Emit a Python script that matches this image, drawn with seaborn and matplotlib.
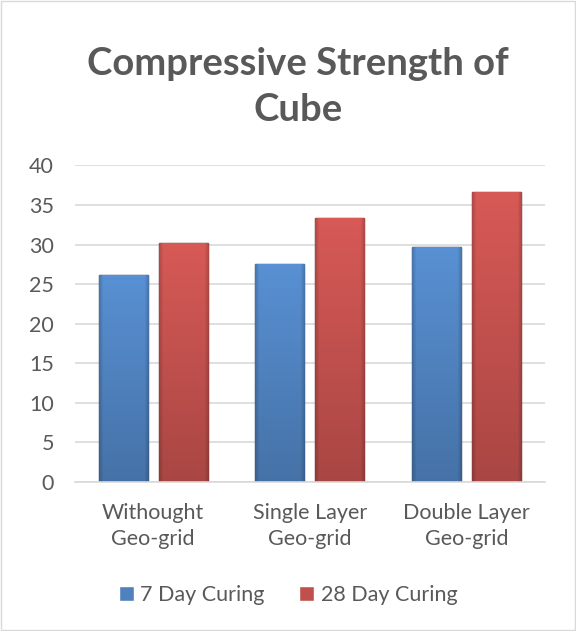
import numpy as np
import pandas as pd
import matplotlib.pyplot as plt
import matplotlib.colors as mcolors
import seaborn as sns
from matplotlib.patches import Rectangle

# data
categories = ["Withought\nGeo-grid", "Single Layer\nGeo-grid", "Double Layer\nGeo-grid"]
curing = ["7 Day Curing", "28 Day Curing"]
day7 = [26.2, 27.6, 29.7]
day28 = [30.2, 33.4, 36.6]
yticks = [0, 5, 10, 15, 20, 25, 30, 35, 40]

df = pd.DataFrame({
    "category": categories * 2,
    "curing": [curing[0]] * 3 + [curing[1]] * 3,
    "value": day7 + day28,
})

palette = {curing[0]: "#4f81bd", curing[1]: "#c0504d"}
edges = {curing[0]: "#1f3a5f", curing[1]: "#5a1f1d"}
grey = "#595959"


def bar_image(color):
    # vertical light->dark gradient with darker side edges (excel bevel look)
    base = np.array(mcolors.to_rgb(color))
    rows = np.linspace(1.12, 0.88, 120).reshape(-1, 1, 1)
    cols = np.linspace(-1, 1, 40)
    side = (1 - 0.18 * np.clip((np.abs(cols) - 0.85) / 0.15, 0, 1)).reshape(1, -1, 1)
    img = np.clip(base.reshape(1, 1, 3) * rows * side, 0, 1)
    return img


sns.set_theme(style="white")
plt.rcParams["font.family"] = ["Lato", "DejaVu Sans"]

fig = plt.figure(figsize=(5.76, 6.31), dpi=100)
ax = fig.add_axes([0.13, 0.236, 0.816, 0.502])

sns.barplot(data=df, x="category", y="value", hue="curing", palette=palette,
            width=0.766, gap=0.183, ax=ax, legend=True, saturation=1)

for cont, name in zip(ax.containers, curing):
    for p in cont:
        p.set_edgecolor(edges[name])
        p.set_linewidth(1.0)
        x0, y0 = p.get_x(), p.get_y()
        w, h = p.get_width(), p.get_height()
        im = ax.imshow(bar_image(palette[name]), extent=(x0, x0 + w, y0, y0 + h),
                       aspect="auto", origin="upper", zorder=p.get_zorder() + 0.1)
        im.set_clip_path(p)

ax.set_xlim(-0.5, 2.5)
ax.set_ylim(0, 40)
ax.set_yticks(yticks)
ax.yaxis.grid(True, color="#d9d9d9", linewidth=1.2)
ax.set_axisbelow(True)
for s in ["top", "right", "left"]:
    ax.spines[s].set_visible(False)
ax.spines["bottom"].set_color("#d9d9d9")
ax.spines["bottom"].set_linewidth(1.2)
ax.tick_params(axis="both", length=0, labelsize=15.5, colors=grey)
ax.tick_params(axis="x", pad=15)
ax.tick_params(axis="y", pad=15)
for lbl in ax.get_xticklabels():
    lbl.set_linespacing(1.4)
ax.set_xlabel("")
ax.set_ylabel("")

fig.text(0.517, 0.862, "Compressive Strength of\nCube", ha="center", va="center",
         fontsize=27.5, fontweight="bold", color=grey, linespacing=1.45)

handles, labels = ax.get_legend_handles_labels()
ax.legend(handles, labels, loc="center", bbox_to_anchor=(0.5, 0.057),
          bbox_transform=fig.transFigure, ncol=2, frameon=False,
          fontsize=15.5, labelcolor=grey, handlelength=0.7, handleheight=0.7,
          handletextpad=0.3, columnspacing=1.6)

fig.patches.append(Rectangle((0.002, 0.002), 0.996, 0.996, transform=fig.transFigure,
                             fill=False, edgecolor="#d9d9d9", linewidth=1))

plt.savefig("out.png", dpi=100)
